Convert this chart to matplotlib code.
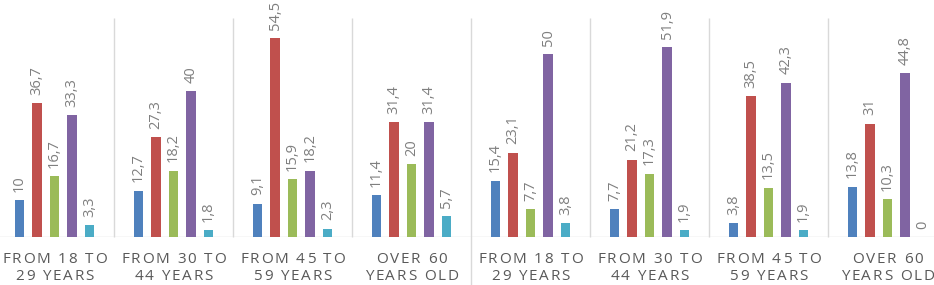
import numpy as np
import matplotlib.pyplot as plt
from matplotlib.font_manager import findfont, FontProperties
from matplotlib.ft2font import FT2Font

plt.rcParams['font.family'] = ['Open Sans', 'DejaVu Sans']

# Datos
categorias = ['FROM 18 TO\n29 YEARS', 'FROM 30 TO\n44 YEARS', 'FROM 45 TO\n59 YEARS', 'OVER 60\nYEARS OLD',
              'FROM 18 TO\n29 YEARS', 'FROM 30 TO\n44 YEARS', 'FROM 45 TO\n59 YEARS', 'OVER 60\nYEARS OLD']
serie_1 = [10, 12.7, 9.1, 11.4, 15.4, 7.7, 3.8, 13.8]
serie_2 = [36.7, 27.3, 54.5, 31.4, 23.1, 21.2, 38.5, 31]
serie_3 = [16.7, 18.2, 15.9, 20, 7.7, 17.3, 13.5, 10.3]
serie_4 = [33.3, 40, 18.2, 31.4, 50, 51.9, 42.3, 44.8]
serie_5 = [3.3, 1.8, 2.3, 5.7, 3.8, 1.9, 1.9, 0]

series = [serie_1, serie_2, serie_3, serie_4, serie_5]
colores = ['#4F81BD', '#C0504D', '#9BBB59', '#8064A2', '#4BACC6']

W, H = 934, 285
fig = plt.figure(figsize=(W / 100, H / 100), dpi=100)
ax = fig.add_axes([0, 48 / H, 1, 237 / H])

centros = np.arange(len(categorias)) + 0.5
paso = 0.147
ancho = 0.08

for k, (vals, col) in enumerate(zip(series, colores)):
    x = centros + (k - 2) * paso
    ax.bar(x, vals, width=ancho, color=col, zorder=2)
    for xi, v in zip(x, vals):
        txt = ('%g' % v).replace('.', ',')
        ax.annotate(txt, (xi, v), xytext=(0, 6), textcoords='offset points',
                    rotation=90, ha='center', va='bottom', fontsize=10.5,
                    color='#7f7f7f')

# Separadores y línea base
ax.axhline(0, color='#d9d9d9', linewidth=1, zorder=1)
for b in range(1, len(categorias)):
    y0 = -13.2 if b == 4 else 0
    ax.vlines(b, y0, 60, color='#d9d9d9', linewidth=1, clip_on=False, zorder=1)

ax.set_xlim(0.042, 7.89)
ax.set_ylim(0, 64.9)
ax.set_xticks([])
ax.set_yticks([])
for s in ax.spines.values():
    s.set_visible(False)

# Etiquetas de categoría con espaciado entre letras
tam = 11
font = FT2Font(findfont(FontProperties(family='Open Sans')))
font.set_size(tam, 100)

def avance(c):
    g = font.load_char(ord(c))
    return g.linearHoriAdvance / 65536

tracking = 1.8
base_lineas = [263, 280.5]
for xc, cat in zip(centros, categorias):
    xpix = ax.transData.transform((xc, 0))[0]
    for linea, yb in zip(cat.split('\n'), base_lineas):
        anchos = [avance(c) for c in linea]
        total = sum(anchos) + tracking * (len(linea) - 1)
        x0 = xpix - total / 2
        for c, a in zip(linea, anchos):
            if c != ' ':
                fig.text((x0 + a / 2) / W, (H - yb) / H, c, ha='center', va='baseline',
                         fontsize=tam, color='#595959')
            x0 += a + tracking

plt.savefig('out.png', dpi=100)
